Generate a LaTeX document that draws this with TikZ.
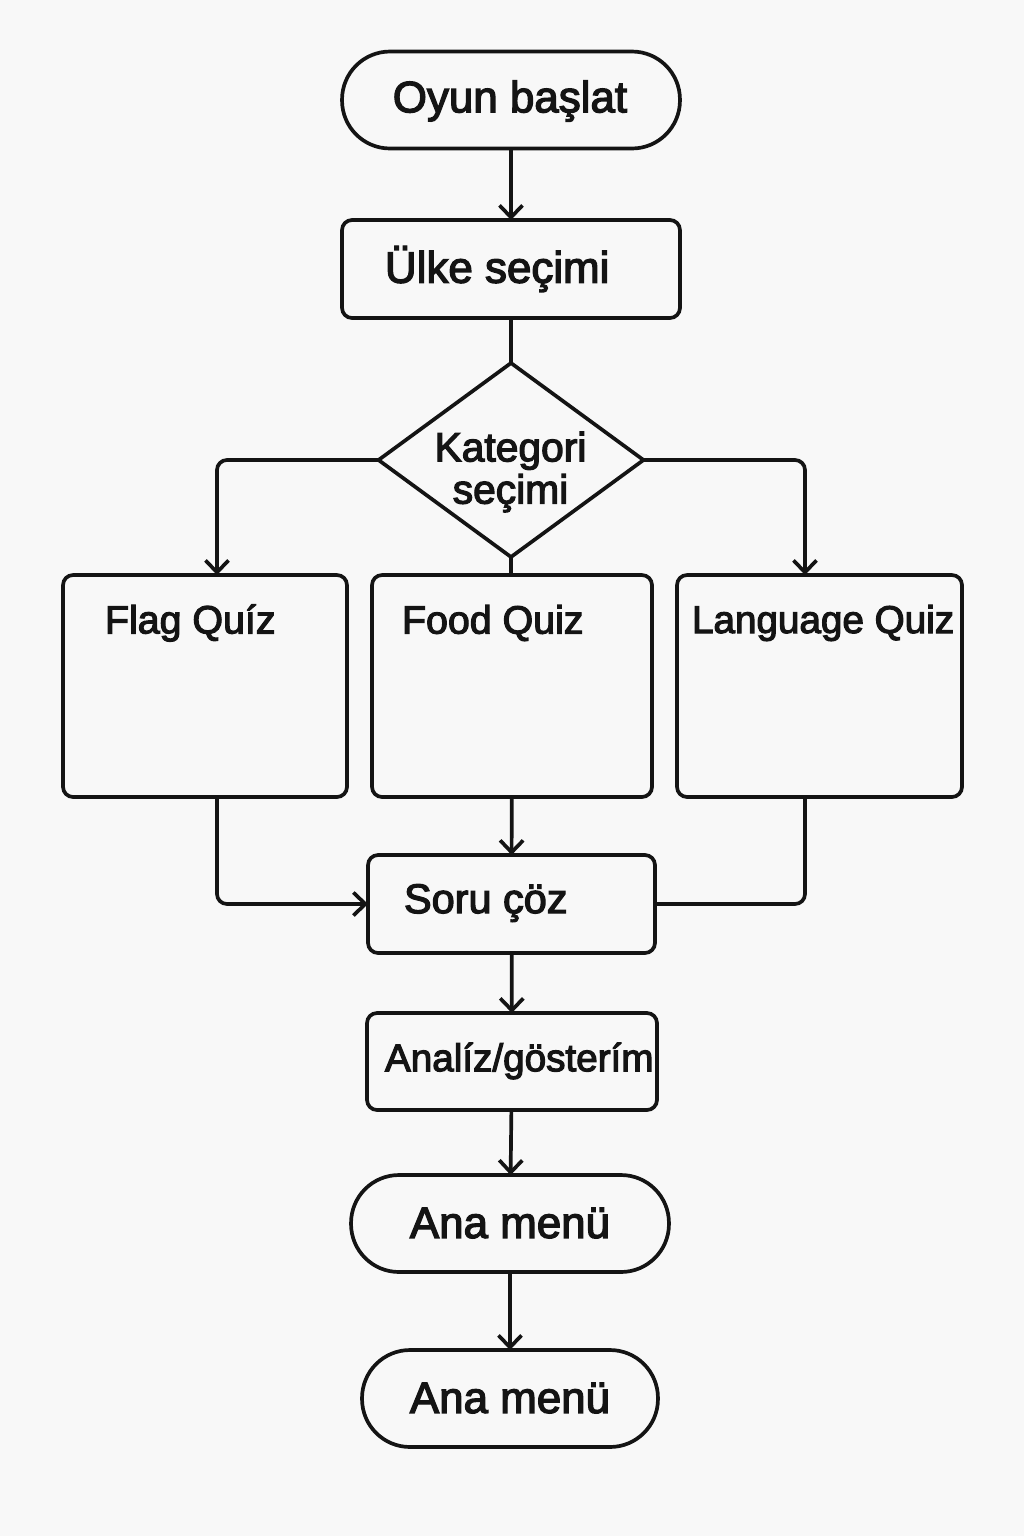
\documentclass[tikz,border=0pt]{standalone}
\usepackage{fontspec}
\setmainfont{Liberation Sans}
\newfontfamily\mfont{Liberation Sans}[FakeBold=3]
\usetikzlibrary{arrows.meta,shapes.geometric}
\definecolor{bgc}{RGB}{248,248,248}
\definecolor{ink}{RGB}{20,20,20}
\begin{document}
\begin{tikzpicture}[x=0.02cm,y=-0.02cm,
  every node/.style={inner sep=0pt, outer sep=0pt, text=ink},
  line/.style={draw=ink, line width=2.1pt},
  arr/.style={line, -{Straight Barb[length=0.24cm,width=0.46cm]}},
  pill/.style={draw=ink, line width=2.1pt, rectangle, rounded corners=0.96cm, minimum height=1.94cm},
  boxx/.style={draw=ink, line width=2.1pt, rectangle, rounded corners=0.2cm},
  big/.style={font=\mfont\fontsize{25pt}{29pt}\selectfont},
  mid/.style={font=\mfont\fontsize{22.4pt}{26pt}\selectfont},
  sml/.style={font=\mfont\fontsize{22pt}{26pt}\selectfont}]
\fill[bgc] (0,0) rectangle (1024,1536);
\useasboundingbox (0,0) rectangle (1024,1536);

% shapes
\node[pill, minimum width=6.76cm] (oyun) at (511,100) {};
\node[big] (oyunt) at (510,101) {Oyun başlat};

\node[boxx, minimum width=6.76cm, minimum height=1.96cm] (ulke) at (511,269) {};
\node[big, anchor=west] (ulket) at (385,269) {Ülke seçimi};

\node[draw=ink, line width=2.1pt, diamond, minimum width=5.3cm, minimum height=3.88cm] (kat) at (511,460) {};
\node[font=\mfont\fontsize{23.2pt}{26pt}\selectfont, align=center] (katt) at (510.5,472) {Kategori\\[-2pt]seçimi};

\node[boxx, minimum width=5.68cm, minimum height=4.44cm] (flag) at (205,686) {};
\node[mid, anchor=west] (flagt) at (105,623) {Flag Quíz};

\node[boxx, minimum width=5.6cm, minimum height=4.44cm] (food) at (512,686) {};
\node[mid, anchor=west] (foodt) at (402,623) {Food Quiz};

\node[boxx, minimum width=5.7cm, minimum height=4.44cm] (lang) at (819.5,686) {};
\node[sml, anchor=west] (langt) at (692,623) {Language Quiz};

\node[boxx, minimum width=5.74cm, minimum height=1.96cm] (soru) at (511.5,904) {};
\node[font=\mfont\fontsize{23.6pt}{27pt}\selectfont, anchor=west] (sorut) at (404,903) {Soru çöz};

\node[boxx, minimum width=5.8cm, minimum height=1.94cm] (anal) at (512,1061.5) {};
\node[sml, anchor=west] (analt) at (385,1061) {Analíz/gösterím};

\node[pill, minimum width=6.36cm] (ana1) at (510,1223.5) {};
\node[big] (ana1t) at (510,1223) {Ana menü};

\node[pill, minimum width=5.92cm] (ana2) at (510,1398.5) {};
\node[big] (ana2t) at (510,1398) {Ana menü};

\coordinate (fx) at (217,0);
\coordinate (lx) at (805,0);

% connectors
\draw[arr] (oyun) -- (ulke);
\draw[line] (ulke) -- (kat.north);
\draw[arr, rounded corners=0.2cm] (kat.west) -| (flag.north -| fx);
\draw[arr, rounded corners=0.2cm] (kat.east) -| (lang.north -| lx);
\draw[line] (kat.south) -- (food.north -| kat.south);
\draw[arr, rounded corners=0.2cm] (flag.south -| fx) |- (soru.west);
\draw[arr] (food) -- (soru);
\draw[line, rounded corners=0.2cm] (lang.south -| lx) |- (soru.east);
\draw[arr] (soru) -- (anal);
\draw[arr] (anal) -- (ana1);
\draw[arr] (ana1) -- (ana2);
\end{tikzpicture}
\end{document}
